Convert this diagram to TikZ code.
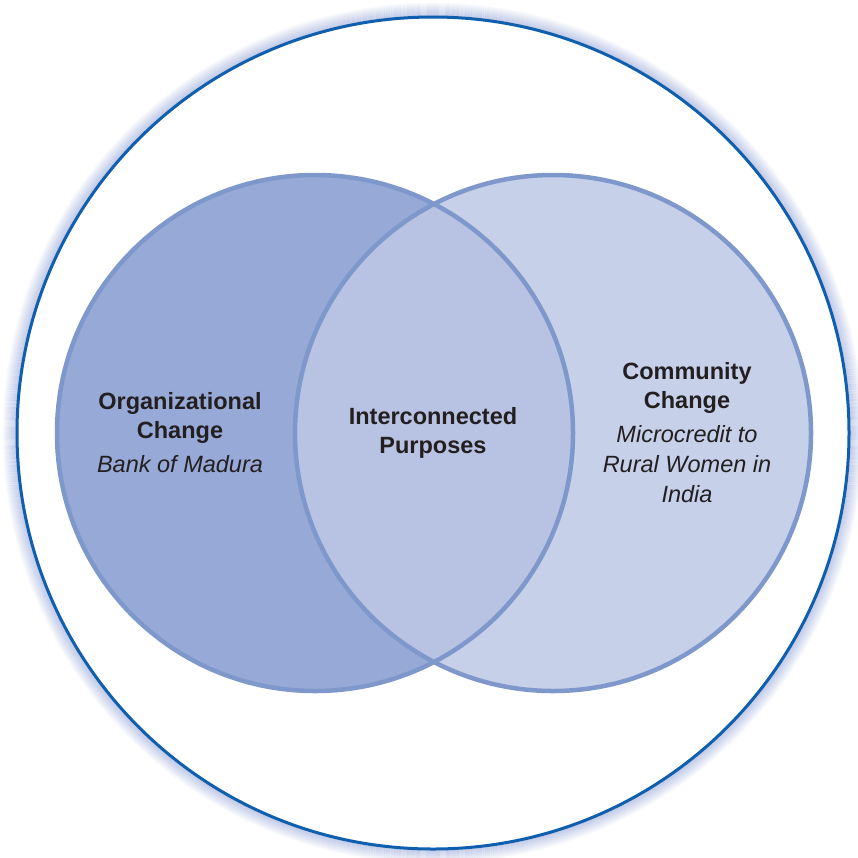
\documentclass[tikz,border=0pt]{standalone}
\usepackage{fontspec}
\setmainfont{Liberation Sans}
\usetikzlibrary{positioning}
\definecolor{vennLeft}{HTML}{97A9D6}
\definecolor{vennRight}{HTML}{C6D0E9}
\definecolor{vennMid}{HTML}{B8C3E3}
\definecolor{vennEdge}{HTML}{7F98CC}
\definecolor{ringBlue}{HTML}{0F5FAE}
\definecolor{ringGlow}{HTML}{8E9FD4}
\definecolor{inkDark}{HTML}{231F20}
\begin{document}
\begin{tikzpicture}[
    x=1pt, y=-1pt,
    every node/.style={text=inkDark, align=center, inner sep=0pt},
    heading/.style={font=\fontsize{23.5}{29}\selectfont\bfseries},
    caption/.style={font=\fontsize{23.5}{30}\selectfont\itshape},
    ring/.style={draw=vennEdge, line width=4.5pt},
]
\useasboundingbox (0,0) rectangle (858,857);
% soft halo round the outer ring
\foreach \r [evaluate=\r as \op using 0.55*(1-\r/15)] in {1,...,14}
    \draw[ringGlow, line width=1.1pt, opacity=\op] (433,433) circle[radius=416+\r];
\draw[ringBlue, line width=3pt, fill=white] (433,433) circle[radius=416];
% the two purposes
\fill[vennLeft]  (315,433) circle[radius=258];
\fill[vennRight] (553,433) circle[radius=258];
\begin{scope}
    \clip (315,433) circle[radius=258];
    \fill[vennMid] (553,433) circle[radius=258];
\end{scope}
\draw[ring] (315,433) circle[radius=258];
\draw[ring] (553,433) circle[radius=258];
% labels (base = baseline of the last line)
\node[heading, anchor=base] (org)    at (180,438) {Organizational\\Change};
\node[caption, anchor=base] (bank)   at (180,472) {Bank of Madura};
\node[heading, anchor=base] (inter)  at (433,453) {Interconnected\\Purposes};
\node[heading, anchor=base] (comm)   at (687,408) {Community\\Change};
\node[caption, anchor=base] (credit) at (687,502) {Microcredit to\\Rural Women in\\India};
\end{tikzpicture}
\end{document}
